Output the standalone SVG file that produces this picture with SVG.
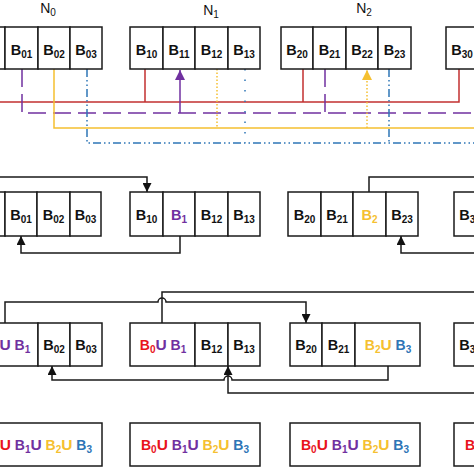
<svg xmlns="http://www.w3.org/2000/svg" width="474" height="474" viewBox="0 0 474 474">
<style>
.box{fill:#fff;stroke:#1a1a1a;stroke-width:1.5}
.t{font-family:"Liberation Sans",Arial,sans-serif;font-weight:bold;font-size:14.5px;text-anchor:middle;fill:#111}
.m{font-size:14px}
.s{font-size:10px}
.u{font-size:15.5px}
.n{font-family:"Liberation Sans",Arial,sans-serif;font-size:14px;text-anchor:middle;fill:#111}
.ns{font-size:10px}
.c{fill:none;stroke:#1a1a1a;stroke-width:1.5}
.red{fill:none;stroke:#c23030;stroke-width:1.5}
.pur{fill:none;stroke:#7030a0;stroke-width:1.5;stroke-dasharray:18 7}
.yel{fill:none;stroke:#f5c030;stroke-width:1.5}
.yeld{fill:none;stroke:#f5c030;stroke-width:1.5;stroke-dasharray:1.5 2}
.blu{fill:none;stroke:#2e75b6;stroke-width:1.5;stroke-dasharray:8 3 1.5 3 1.5 3}
.bld{fill:none;stroke:#2e75b6;stroke-width:1.5;stroke-dasharray:1.5 9}
.cr{fill:#e8141c}.cp{fill:#7030a0}.cy{fill:#f5c030}.cb{fill:#2e75b6}
</style>
<defs>
<marker id="ak" markerUnits="userSpaceOnUse" markerWidth="9" markerHeight="9" refX="9" refY="4.5" orient="auto"><path d="M0,0 L9,4.5 L0,9 z" fill="#111"/></marker>
<marker id="ap" markerUnits="userSpaceOnUse" markerWidth="10" markerHeight="10" refX="10" refY="5" orient="auto"><path d="M0,0 L10,5 L0,10 z" fill="#7030a0"/></marker>
<marker id="ay" markerUnits="userSpaceOnUse" markerWidth="10" markerHeight="10" refX="10" refY="5" orient="auto"><path d="M0,0 L10,5 L0,10 z" fill="#f5c030"/></marker>
</defs>

<!-- labels -->
<text class="n" x="48" y="13">N<tspan class="ns" dy="3">0</tspan></text>
<text class="n" x="211" y="15">N<tspan class="ns" dy="3">1</tspan></text>
<text class="n" x="364" y="13">N<tspan class="ns" dy="3">2</tspan></text>

<!-- connectors -->
<g id="connectors">
<path class="red" d="M0,102 H459 V69 M145,69 V102 M303,69 V102"/>
<path class="pur" d="M22,69 V113 H474"/>
<path class="pur" d="M325,69 V113"/>
<path fill="none" stroke="#7030a0" stroke-width="1.5" d="M180,113 V70" marker-end="url(#ap)"/>
<path class="yel" d="M54,69 V128 H474"/>
<path class="yeld" d="M217,69 V128"/>
<path class="yeld" d="M367,128 V70" marker-end="url(#ay)"/>
<path class="blu" d="M87,69 V143 H474"/>
<path class="bld" d="M245,69 V143"/>
<path class="blu" d="M389,69 V143"/>
<path class="c" d="M0,177 H147 V192" marker-end="url(#ak)"/>
<path class="c" d="M180,236 V253 H21 V236" marker-end="url(#ak)"/>
<path class="c" d="M369,192 V177 H474"/>
<path class="c" d="M474,253 H401 V236" marker-end="url(#ak)"/>
<path class="c" d="M5,323 V302 H158 A4,4 0 0 1 166,302 H306 V323" marker-end="url(#ak)"/>
<path class="c" d="M162,323 V292 H474"/>
<path class="c" d="M388,366 V380 H232 A4,4 0 0 0 224,380 H52 V366" marker-end="url(#ak)"/>
<path class="c" d="M474,393 H228 V366" marker-end="url(#ak)"/>
</g>

<!-- row 1 -->
<g id="r1-B00"><rect class="box" x="-27" y="27" width="32" height="42"/></g>
<g id="r1-B01"><rect class="box" x="5" y="27" width="33" height="42"/><text class="t" x="21.5" y="55">B<tspan class="s" dy="3">01</tspan></text></g>
<g id="r1-B02"><rect class="box" x="38" y="27" width="32" height="42"/><text class="t" x="54" y="55">B<tspan class="s" dy="3">02</tspan></text></g>
<g id="r1-B03"><rect class="box" x="70" y="27" width="32" height="42"/><text class="t" x="86" y="55">B<tspan class="s" dy="3">03</tspan></text></g>
<g id="r1-B10"><rect class="box" x="130" y="27" width="33" height="42"/><text class="t" x="146.5" y="55">B<tspan class="s" dy="3">10</tspan></text></g>
<g id="r1-B11"><rect class="box" x="163" y="27" width="32" height="42"/><text class="t" x="179" y="55">B<tspan class="s" dy="3">11</tspan></text></g>
<g id="r1-B12"><rect class="box" x="195" y="27" width="33" height="42"/><text class="t" x="211.5" y="55">B<tspan class="s" dy="3">12</tspan></text></g>
<g id="r1-B13"><rect class="box" x="228" y="27" width="32" height="42"/><text class="t" x="244" y="55">B<tspan class="s" dy="3">13</tspan></text></g>
<g id="r1-B20"><rect class="box" x="281" y="27" width="32" height="42"/><text class="t" x="297" y="55">B<tspan class="s" dy="3">20</tspan></text></g>
<g id="r1-B21"><rect class="box" x="313" y="27" width="33" height="42"/><text class="t" x="329.5" y="55">B<tspan class="s" dy="3">21</tspan></text></g>
<g id="r1-B22"><rect class="box" x="346" y="27" width="32" height="42"/><text class="t" x="362" y="55">B<tspan class="s" dy="3">22</tspan></text></g>
<g id="r1-B23"><rect class="box" x="378" y="27" width="33" height="42"/><text class="t" x="394.5" y="55">B<tspan class="s" dy="3">23</tspan></text></g>
<g id="r1-B30"><rect class="box" x="446" y="27" width="32" height="42"/><text class="t" x="462" y="55">B<tspan class="s" dy="3">30</tspan></text></g>

<!-- row 2 -->
<g id="r2-B00"><rect class="box" x="-27" y="192" width="32" height="44"/></g>
<g id="r2-B01"><rect class="box" x="5" y="192" width="32" height="44"/><text class="t" x="21" y="220">B<tspan class="s" dy="3">01</tspan></text></g>
<g id="r2-B02"><rect class="box" x="37" y="192" width="33" height="44"/><text class="t" x="53.5" y="220">B<tspan class="s" dy="3">02</tspan></text></g>
<g id="r2-B03"><rect class="box" x="70" y="192" width="31" height="44"/><text class="t" x="85.5" y="220">B<tspan class="s" dy="3">03</tspan></text></g>
<g id="r2-B10"><rect class="box" x="130" y="192" width="33" height="44"/><text class="t" x="146.5" y="220">B<tspan class="s" dy="3">10</tspan></text></g>
<g id="r2-B1"><rect class="box" x="163" y="192" width="32" height="44"/><text class="t cp" x="179" y="220">B<tspan class="s" dy="3">1</tspan></text></g>
<g id="r2-B12"><rect class="box" x="195" y="192" width="33" height="44"/><text class="t" x="211.5" y="220">B<tspan class="s" dy="3">12</tspan></text></g>
<g id="r2-B13"><rect class="box" x="228" y="192" width="32" height="44"/><text class="t" x="244" y="220">B<tspan class="s" dy="3">13</tspan></text></g>
<g id="r2-B20"><rect class="box" x="288" y="192" width="33" height="44"/><text class="t" x="304.5" y="220">B<tspan class="s" dy="3">20</tspan></text></g>
<g id="r2-B21"><rect class="box" x="321" y="192" width="32" height="44"/><text class="t" x="337" y="220">B<tspan class="s" dy="3">21</tspan></text></g>
<g id="r2-B2"><rect class="box" x="353" y="192" width="33" height="44"/><text class="t cy" x="369.5" y="220">B<tspan class="s" dy="3">2</tspan></text></g>
<g id="r2-B23"><rect class="box" x="386" y="192" width="32" height="44"/><text class="t" x="402" y="220">B<tspan class="s" dy="3">23</tspan></text></g>
<g id="r2-B30"><rect class="box" x="454" y="192" width="32" height="44"/><text class="t" x="470" y="220">B<tspan class="s" dy="3">30</tspan></text></g>

<!-- row 3 -->
<g id="r3-B0B1"><rect class="box" x="-27" y="323" width="65" height="43"/><text class="t m" x="7" y="350"><tspan class="cr">B<tspan class="s" dy="3">0</tspan></tspan><tspan class="u cp" dy="-3">U</tspan> <tspan class="cp">B<tspan class="s" dy="3">1</tspan></tspan></text></g>
<g id="r3-B02"><rect class="box" x="38" y="323" width="32" height="43"/><text class="t" x="54" y="350">B<tspan class="s" dy="3">02</tspan></text></g>
<g id="r3-B03"><rect class="box" x="70" y="323" width="32" height="43"/><text class="t" x="86" y="350">B<tspan class="s" dy="3">03</tspan></text></g>
<g id="r3-N1B0B1"><rect class="box" x="130" y="323" width="65" height="43"/><text class="t m" x="163" y="350"><tspan class="cr">B<tspan class="s" dy="3">0</tspan></tspan><tspan class="u cp" dy="-3">U</tspan> <tspan class="cp">B<tspan class="s" dy="3">1</tspan></tspan></text></g>
<g id="r3-B12"><rect class="box" x="195" y="323" width="33" height="43"/><text class="t" x="211.5" y="350">B<tspan class="s" dy="3">12</tspan></text></g>
<g id="r3-B13"><rect class="box" x="228" y="323" width="32" height="43"/><text class="t" x="244" y="350">B<tspan class="s" dy="3">13</tspan></text></g>
<g id="r3-B20"><rect class="box" x="290" y="323" width="32" height="43"/><text class="t" x="306" y="350">B<tspan class="s" dy="3">20</tspan></text></g>
<g id="r3-B21"><rect class="box" x="322" y="323" width="33" height="43"/><text class="t" x="338.5" y="350">B<tspan class="s" dy="3">21</tspan></text></g>
<g id="r3-B2B3"><rect class="box" x="355" y="323" width="65" height="43"/><text class="t m" x="388" y="350"><tspan class="cy">B<tspan class="s" dy="3">2</tspan></tspan><tspan class="u cy" dy="-3">U</tspan> <tspan class="cb">B<tspan class="s" dy="3">3</tspan></tspan></text></g>
<g id="r3-B30"><rect class="box" x="454" y="323" width="32" height="43"/><text class="t" x="470" y="350">B<tspan class="s" dy="3">30</tspan></text></g>

<!-- row 4 -->
<g id="r4-N0"><rect class="box" x="-28" y="423" width="130" height="43"/><text class="t m" x="38" y="450"><tspan class="cr">B<tspan class="s" dy="3">0</tspan><tspan class="u" dy="-3">U</tspan></tspan> <tspan class="cp">B<tspan class="s" dy="3">1</tspan><tspan class="u" dy="-3">U</tspan></tspan> <tspan class="cy">B<tspan class="s" dy="3">2</tspan><tspan class="u" dy="-3">U</tspan></tspan> <tspan class="cb">B<tspan class="s" dy="3">3</tspan></tspan></text></g>
<g id="r4-N1"><rect class="box" x="130" y="423" width="130" height="43"/><text class="t m" x="195" y="450"><tspan class="cr">B<tspan class="s" dy="3">0</tspan><tspan class="u" dy="-3">U</tspan></tspan> <tspan class="cp">B<tspan class="s" dy="3">1</tspan><tspan class="u" dy="-3">U</tspan></tspan> <tspan class="cy">B<tspan class="s" dy="3">2</tspan><tspan class="u" dy="-3">U</tspan></tspan> <tspan class="cb">B<tspan class="s" dy="3">3</tspan></tspan></text></g>
<g id="r4-N2"><rect class="box" x="290" y="423" width="130" height="43"/><text class="t m" x="355" y="450"><tspan class="cr">B<tspan class="s" dy="3">0</tspan><tspan class="u" dy="-3">U</tspan></tspan> <tspan class="cp">B<tspan class="s" dy="3">1</tspan><tspan class="u" dy="-3">U</tspan></tspan> <tspan class="cy">B<tspan class="s" dy="3">2</tspan><tspan class="u" dy="-3">U</tspan></tspan> <tspan class="cb">B<tspan class="s" dy="3">3</tspan></tspan></text></g>
<g id="r4-N3"><rect class="box" x="454" y="423" width="130" height="43"/><text class="t m" x="519" y="450"><tspan class="cr">B<tspan class="s" dy="3">0</tspan><tspan class="u" dy="-3">U</tspan></tspan> <tspan class="cp">B<tspan class="s" dy="3">1</tspan><tspan class="u" dy="-3">U</tspan></tspan> <tspan class="cy">B<tspan class="s" dy="3">2</tspan><tspan class="u" dy="-3">U</tspan></tspan> <tspan class="cb">B<tspan class="s" dy="3">3</tspan></tspan></text></g>
</svg>
